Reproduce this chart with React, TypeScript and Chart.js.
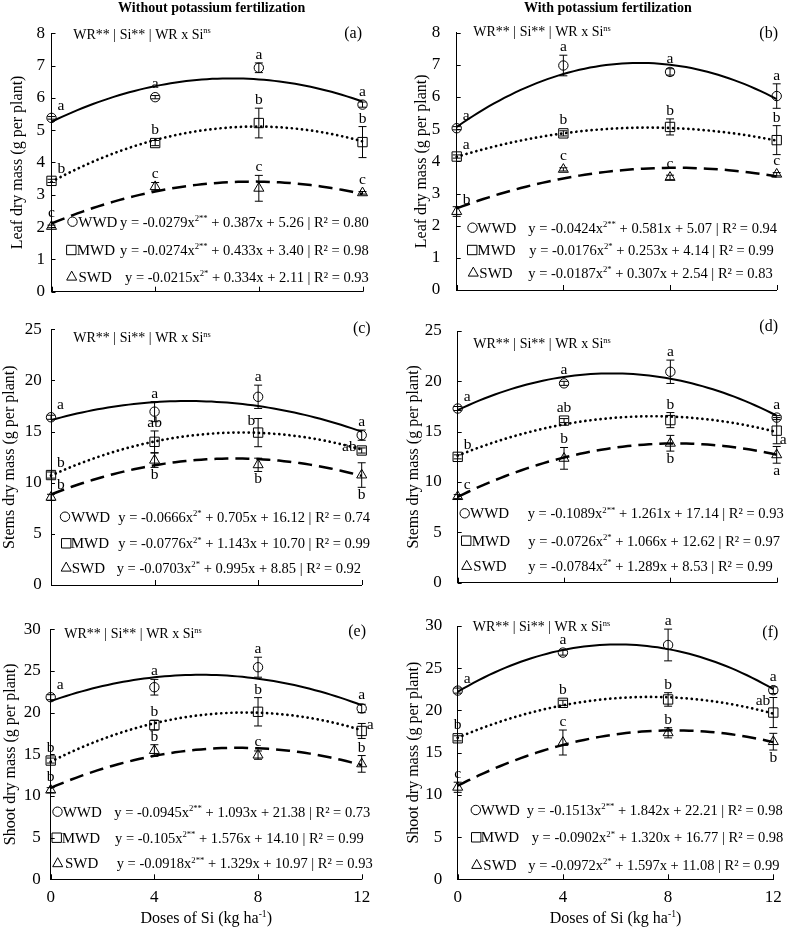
import React, { useEffect, useRef } from "react";
import { Chart, registerables } from "chart.js";
Chart.register(...registerables);

const FONT = '"Liberation Serif", "Times New Roman", Times, serif';

// ---------- data ----------
const doses = [0, 4, 8, 12];
const xTickValues = [0, 4, 8, 12];
const seriesNames = ["WWD", "MWD", "SWD"];
const anovaText = "WR** | Si** | WR x Si";
const anovaSup = "ns";

// (a) leaf, without K
const aWWD = [5.38, 6.02, 6.93, 5.79];
const aWWDErr = [0.04, 0.05, 0.15, 0.08];
const aWWDLet = ["a", "a", "a", "a"];
const aMWD = [3.43, 4.6, 5.22, 4.63];
const aMWDErr = [0.05, 0.08, 0.46, 0.48];
const aMWDLet = ["b", "b", "b", "b"];
const aSWD = [2.02, 3.25, 3.2, 3.06];
const aSWDErr = [0.04, 0.13, 0.4, 0.04];
const aSWDLet = ["c", "c", "c", "c"];
const aEqWWD = ["-0.0279", "**", "0.387", "5.26", "0.80"];
const aEqMWD = ["-0.0274", "**", "0.433", "3.40", "0.98"];
const aEqSWD = ["-0.0215", "*", "0.334", "2.11", "0.93"];

// (b) leaf, with K
const bWWD = [5.03, 6.98, 6.78, 6.03];
const bWWDErr = [0.05, 0.32, 0.1, 0.38];
const bWWDLet = ["a", "a", "a", "a"];
const bMWD = [4.15, 4.87, 5.07, 4.66];
const bMWDErr = [0.05, 0.08, 0.25, 0.45];
const bMWDLet = ["a", "b", "b", "b"];
const bSWD = [2.44, 3.75, 3.5, 3.6];
const bSWDErr = [0.15, 0.05, 0.07, 0.05];
const bSWDLet = ["b", "c", "c", "c"];
const bEqWWD = ["-0.0424", "**", "0.581", "5.07", "0.94"];
const bEqMWD = ["-0.0176", "*", "0.253", "4.14", "0.99"];
const bEqSWD = ["-0.0187", "*", "0.307", "2.54", "0.83"];

// (c) stems, without K
const cWWD = [16.4, 16.95, 18.4, 14.65];
const cWWDErr = [0.2, 0.98, 1.14, 0.5];
const cWWDLet = ["a", "a", "a", "a"];
const cMWD = [10.75, 14.0, 14.9, 13.15];
const cMWDErr = [0.3, 1.06, 1.38, 0.25];
const cMWDLet = ["b", "ab", "b", "ab"];
const cSWD = [8.57, 12.2, 11.75, 10.75];
const cSWDErr = [0.3, 0.7, 0.65, 1.2];
const cSWDLet = ["b", "b", "b", "b"];
const cEqWWD = ["-0.0666", "*", "0.705", "16.12", "0.74"];
const cEqMWD = ["-0.0776", "*", "1.143", "10.70", "0.99"];
const cEqSWD = ["-0.0703", "*", "0.995", "8.85", "0.92"];

// (d) stems, with K
const dWWD = [17.3, 19.8, 20.95, 16.4];
const dWWDErr = [0.2, 0.2, 1.16, 0.2];
const dWWDLet = ["a", "a", "a", "a"];
const dMWD = [12.5, 16.1, 16.15, 15.1];
const dMWDErr = [0.2, 0.2, 0.75, 1.3];
const dMWDLet = ["b", "ab", "b", "a"];
const dSWD = [8.55, 12.35, 13.85, 12.7];
const dSWDErr = [0.2, 1.08, 0.78, 0.83];
const dSWDLet = ["c", "b", "b", "a"];
const dEqWWD = ["-0.1089", "**", "1.261", "17.14", "0.93"];
const dEqMWD = ["-0.0726", "*", "1.066", "12.62", "0.97"];
const dEqSWD = ["-0.0784", "*", "1.289", "8.53", "0.99"];

// (e) shoot, without K
const eWWD = [21.85, 23.05, 25.45, 20.5];
const eWWDErr = [0.3, 0.94, 1.2, 0.5];
const eWWDLet = ["a", "a", "a", "a"];
const eMWD = [14.25, 18.5, 20.1, 17.8];
const eMWDErr = [0.3, 0.6, 1.7, 0.9];
const eMWDLet = ["b", "b", "b", "a"];
const eSWD = [10.7, 15.45, 14.9, 13.85];
const eSWDErr = [0.3, 0.7, 0.5, 1.0];
const eSWDLet = ["b", "b", "c", "b"];
const eEqWWD = ["-0.0945", "**", "1.093", "21.38", "0.73"];
const eEqMWD = ["-0.105", "**", "1.576", "14.10", "0.99"];
const eEqSWD = ["-0.0918", "**", "1.329", "10.97", "0.93"];

// (f) shoot, with K
const fWWD = [22.35, 26.85, 27.75, 22.4];
const fWWDErr = [0.3, 0.3, 1.88, 0.4];
const fWWDLet = ["a", "a", "a", "a"];
const fMWD = [16.7, 20.9, 21.3, 19.75];
const fMWDErr = [0.3, 0.3, 0.8, 1.78];
const fMWDLet = ["b", "b", "b", "ab"];
const fSWD = [10.9, 16.2, 17.35, 16.3];
const fSWDErr = [0.6, 1.48, 0.6, 0.99];
const fSWDLet = ["c", "c", "b", "b"];
const fEqWWD = ["-0.1513", "**", "1.842", "22.21", "0.98"];
const fEqMWD = ["-0.0902", "*", "1.320", "16.77", "0.98"];
const fEqSWD = ["-0.0972", "*", "1.597", "11.08", "0.99"];

// ---------- letter placement (style) ----------
const posA = [["tr", "t", "t", "t"], ["tr", "t", "t", "t"], ["t", "t", "t", "t"]];
const posB = [["tr", "t", "t", "t"], ["tr", "t", "t", "t"], ["tr", "t", "t", "t"]];
const posC = [["tr", "t", "t", "t"], ["tr", "t", "tl", "l"], ["tr", "b", "b", "b"]];
const posD = [["tr", "t", "t", "t"], ["tr", "t", "t", "br"], ["tr", "t", "b", "b"]];
const posE = [["tr", "t", "t", "t"], ["t", "t", "t", "r"], ["t", "t", "t", "t"]];
const posF = [["tr", "t", "t", "t"], ["t", "t", "t", "tl"], ["t", "t", "t", "b"]];

type Series = { vals: number[]; errs: number[]; lets: string[]; pos: string[]; eq: string[] };
type PanelCfg = {
  canvas: { x: number; y: number; w: number; h: number };
  area: { L: number; R: number; T: number; B: number };
  yMax: number; yStep: number; yTitle: string; yTitlePad: number; yTickPad: number;
  bottom: boolean; tag: string; tagPos: [number, number]; anova: [number, number];
  legend: number[][]; heading?: { text: string; x: number; y: number };
  series: Series[];
};

function mk(vals: number[][], errs: number[][], lets: string[][], pos: string[][], eqs: string[][]): Series[] {
  return vals.map((v, i) => ({ vals: v, errs: errs[i], lets: lets[i], pos: pos[i], eq: eqs[i] }));
}

const panels: PanelCfg[] = [
  {
    canvas: { x: 0, y: 0, w: 390, h: 300 }, area: { L: 51.5, R: 362.5, T: 33.2, B: 291.7 },
    yMax: 8, yStep: 1, yTitle: "Leaf dry mass (g per plant)", yTitlePad: 7.9, yTickPad: 6.5,
    bottom: false, tag: "(a)", tagPos: [362, 33], anova: [73.3, 34],
    legend: [[221.7, 72.5, 78.3, 120], [250, 71.3, 76.7, 120], [276.7, 71.7, 78.5, 125]],
    heading: { text: "Without potassium fertilization", x: 211.7, y: 7 },
    series: mk([aWWD, aMWD, aSWD], [aWWDErr, aMWDErr, aSWDErr], [aWWDLet, aMWDLet, aSWDLet], posA, [aEqWWD, aEqMWD, aEqSWD]),
  },
  {
    canvas: { x: 390, y: 0, w: 397, h: 300 }, area: { L: 456.7, R: 776.7, T: 32.7, B: 290 },
    yMax: 8, yStep: 1, yTitle: "Leaf dry mass (g per plant)", yTitlePad: 21.7, yTickPad: 16.5,
    bottom: false, tag: "(b)", tagPos: [778, 33], anova: [473.3, 31.7],
    legend: [[227.7, 472.5, 477.3, 528.3], [250, 472.2, 477.3, 529.3], [272.7, 473.3, 479.3, 528.3]],
    heading: { text: "With potassium fertilization", x: 607.8, y: 7 },
    series: mk([bWWD, bMWD, bSWD], [bWWDErr, bMWDErr, bSWDErr], [bWWDLet, bMWDLet, bSWDLet], posB, [bEqWWD, bEqMWD, bEqSWD]),
  },
  {
    canvas: { x: 0, y: 300, w: 390, h: 300 }, area: { L: 51, R: 361.7, T: 329.3, B: 585 },
    yMax: 25, yStep: 5, yTitle: "Stems dry mass (g per plant)", yTitlePad: 0.4, yTickPad: 9.3,
    bottom: false, tag: "(c)", tagPos: [370.7, 327.7], anova: [73.3, 337.7],
    legend: [[516.7, 65, 71, 118.3], [543.3, 66.2, 70.7, 118.3], [567.7, 66.2, 71.7, 116.7]],
    series: mk([cWWD, cMWD, cSWD], [cWWDErr, cMWDErr, cSWDErr], [cWWDLet, cMWDLet, cSWDLet], posC, [cEqWWD, cEqMWD, cEqSWD]),
  },
  {
    canvas: { x: 390, y: 300, w: 397, h: 300 }, area: { L: 457.7, R: 776.7, T: 331, B: 582.7 },
    yMax: 25, yStep: 5, yTitle: "Stems dry mass (g per plant)", yTitlePad: 14.4, yTickPad: 16,
    bottom: false, tag: "(d)", tagPos: [778, 326], anova: [473.3, 343.3],
    legend: [[513.3, 464.7, 470, 527.7], [540.7, 466.2, 471.7, 528.3], [566, 466.7, 473.3, 528.3]],
    series: mk([dWWD, dMWD, dSWD], [dWWDErr, dMWDErr, dSWDErr], [dWWDLet, dMWDLet, dSWDLet], posD, [dEqWWD, dEqMWD, dEqSWD]),
  },
  {
    canvas: { x: 0, y: 600, w: 390, h: 327 }, area: { L: 50.7, R: 361.7, T: 629.3, B: 879.3 },
    yMax: 30, yStep: 5, yTitle: "Shoot dry mass (g per plant)", yTitlePad: 0.9, yTickPad: 10,
    bottom: true, tag: "(e)", tagPos: [366, 631], anova: [64.3, 633.3],
    legend: [[811.7, 57.5, 62.7, 114.3], [837.7, 56.7, 61.7, 115], [863.3, 57.7, 65, 116.7]],
    series: mk([eWWD, eMWD, eSWD], [eWWDErr, eMWDErr, eSWDErr], [eWWDLet, eMWDLet, eSWDLet], posE, [eEqWWD, eEqMWD, eEqSWD]),
  },
  {
    canvas: { x: 390, y: 600, w: 397, h: 327 }, area: { L: 457.7, R: 773.3, T: 626, B: 879.3 },
    yMax: 30, yStep: 5, yTitle: "Shoot dry mass (g per plant)", yTitlePad: 14.4, yTickPad: 15.4,
    bottom: true, tag: "(f)", tagPos: [778.3, 631.7], anova: [472.7, 626.7],
    legend: [[810, 475.8, 480.7, 526.7], [837.3, 476.2, 480.7, 531.7], [865, 476.7, 483.3, 528.3]],
    series: mk([fWWD, fMWD, fSWD], [fWWDErr, fMWDErr, fSWDErr], [fWWDLet, fMWDLet, fSWDLet], posF, [fEqWWD, fEqMWD, fEqSWD]),
  },
];

// ---------- drawing helpers ----------
type Seg = [string, boolean];
function segFont(size: number, sup: boolean) {
  return `${sup ? (size * 0.6).toFixed(1) : size}px ${FONT}`;
}
function richWidth(ctx: CanvasRenderingContext2D, segs: Seg[], size: number) {
  let w = 0;
  for (const [t, sup] of segs) { ctx.font = segFont(size, sup); w += ctx.measureText(t).width; }
  return w;
}
function drawRich(ctx: CanvasRenderingContext2D, segs: Seg[], x: number, y: number, size: number, center = false) {
  let cx = center ? x - richWidth(ctx, segs, size) / 2 : x;
  ctx.textAlign = "left";
  ctx.textBaseline = "alphabetic";
  for (const [t, sup] of segs) {
    ctx.font = segFont(size, sup);
    ctx.fillText(t, cx, sup ? y - size * 0.38 : y);
    cx += ctx.measureText(t).width;
  }
}
function drawMarker(ctx: CanvasRenderingContext2D, kind: number, x: number, y: number) {
  ctx.beginPath();
  if (kind === 0) ctx.arc(x, y, 4.7, 0, Math.PI * 2);
  else if (kind === 1) ctx.rect(x - 4.7, y - 4.7, 9.4, 9.4);
  else { ctx.moveTo(x, y - 5.6); ctx.lineTo(x + 5, y + 3.4); ctx.lineTo(x - 5, y + 3.4); ctx.closePath(); }
  ctx.stroke();
}

const markerStyles = [
  { pointStyle: "circle", radius: 4.7, dash: [] as number[], width: 2, cap: "butt" },
  { pointStyle: "rect", radius: 6.6, dash: [0.1, 5], width: 2.7, cap: "round" },
  { pointStyle: "triangle", radius: 5.8, dash: [14, 7], width: 2.5, cap: "butt" },
];

const EQ_SIZE = 14.5;
const LETTER_SIZE = 15.5;

function decoPlugin(p: PanelCfg) {
  return {
    id: "deco",
    afterDraw(chart: any) {
      const ctx: CanvasRenderingContext2D = chart.ctx;
      const xs = chart.scales.x, ys = chart.scales.y, area = chart.chartArea;
      const ox = p.canvas.x, oy = p.canvas.y;
      ctx.save();
      ctx.strokeStyle = "#000";
      ctx.fillStyle = "#000";
      ctx.lineWidth = 1;
      ctx.setLineDash([]);
      // inward tick marks
      ctx.beginPath();
      for (let v = 0; v <= p.yMax + 1e-9; v += p.yStep) {
        const y = Math.round(ys.getPixelForValue(v)) + 0.5;
        ctx.moveTo(area.left, y); ctx.lineTo(area.left + 4, y);
      }
      for (const v of xTickValues) {
        const x = Math.round(xs.getPixelForValue(v)) + 0.5;
        ctx.moveTo(x, area.bottom); ctx.lineTo(x, area.bottom - 5);
      }
      ctx.stroke();

      // error bars and letters
      p.series.forEach((s) => {
        s.vals.forEach((v, i) => {
          const e = s.errs[i];
          const px = xs.getPixelForValue(doses[i]);
          const py = ys.getPixelForValue(v);
          const t = ys.getPixelForValue(v + e);
          const b = ys.getPixelForValue(v - e);
          ctx.beginPath();
          ctx.moveTo(px, t); ctx.lineTo(px, b);
          ctx.moveTo(px - 4, t); ctx.lineTo(px + 4, t);
          ctx.moveTo(px - 4, b); ctx.lineTo(px + 4, b);
          ctx.stroke();
          const top = Math.min(t, py - 5);
          const bot = Math.max(b, py + 5);
          ctx.font = `${LETTER_SIZE}px ${FONT}`;
          ctx.textBaseline = "alphabetic";
          const L = s.lets[i];
          switch (s.pos[i]) {
            case "tr": ctx.textAlign = "left"; ctx.fillText(L, px + 6, py - 8); break;
            case "tl": ctx.textAlign = "right"; ctx.fillText(L, px - 3, py - 8); break;
            case "l": ctx.textAlign = "right"; ctx.fillText(L, px - 5, py); break;
            case "r": ctx.textAlign = "left"; ctx.fillText(L, px + 5, py - 2); break;
            case "br": ctx.textAlign = "left"; ctx.fillText(L, px + 3, py + 13); break;
            case "b": ctx.textAlign = "center"; ctx.fillText(L, px, bot + 12); break;
            default: ctx.textAlign = "center"; ctx.fillText(L, px, top - 4);
          }
        });
      });

      // ANOVA summary
      drawRich(ctx, [[anovaText, false], [anovaSup, true]], p.anova[0] - ox, p.anova[1] - oy + 4.6, 14);
      // panel tag
      ctx.font = `16px ${FONT}`;
      ctx.textAlign = "right";
      ctx.textBaseline = "alphabetic";
      ctx.fillText(p.tag, p.tagPos[0] - ox, p.tagPos[1] - oy + 5);

      // legend with equations
      p.legend.forEach((row, k) => {
        const [y, mx, lx, ex] = row;
        drawMarker(ctx, k, mx - ox, y - oy);
        ctx.font = `15px ${FONT}`;
        ctx.textAlign = "left";
        ctx.fillText(seriesNames[k], lx - ox, y - oy + 5);
        const [qa, sig, qb, qc, r2] = p.series[k].eq;
        drawRich(ctx, [
          [`y = ${qa}x`, false],
          [`2${sig}`, true],
          [` + ${qb}x + ${qc} | R² = ${r2}`, false],
        ], ex - ox, y - oy + 5, EQ_SIZE);
      });

      // heading
      if (p.heading) {
        ctx.font = `bold 14px ${FONT}`;
        ctx.textAlign = "center";
        ctx.fillText(p.heading.text, p.heading.x - ox, p.heading.y - oy + 5);
      }
      // x title
      if (p.bottom) {
        drawRich(ctx, [["Doses of Si (kg ha", false], ["-1", true], [")", false]], (area.left + area.right) / 2, 918 - oy + 5, 16, true);
      }
      ctx.restore();
    },
  };
}

function buildConfig(p: PanelCfg): any {
  const c = p.canvas, a = p.area;
  const datasets: any[] = [];
  p.series.forEach((s, k) => {
    const st = markerStyles[k];
    const A = Number(s.eq[0]), B = Number(s.eq[2]), C = Number(s.eq[3]);
    const curve: { x: number; y: number }[] = [];
    for (let i = 0; i <= 60; i++) {
      const x = (12 * i) / 60;
      curve.push({ x, y: A * x * x + B * x + C });
    }
    datasets.push({
      type: "line", data: curve, borderColor: "#000", borderWidth: st.width,
      borderDash: st.dash, borderCapStyle: st.cap, pointRadius: 0, fill: false,
      tension: 0, clip: false, order: 2,
    });
  });
  p.series.forEach((s, k) => {
    const st = markerStyles[k];
    datasets.push({
      type: "scatter", data: doses.map((x, i) => ({ x, y: s.vals[i] })),
      pointStyle: st.pointStyle, pointRadius: st.radius, borderColor: "#000",
      backgroundColor: "rgba(0,0,0,0)", borderWidth: 1, clip: false, order: 1,
    });
  });
  return {
    type: "scatter",
    data: { datasets },
    options: {
      animation: false,
      responsive: false,
      devicePixelRatio: 1,
      events: [],
      layout: {
        autoPadding: false,
        padding: { left: 0, top: a.T - c.y, right: c.w - (a.R - c.x), bottom: 0 },
      },
      plugins: { legend: { display: false }, tooltip: { enabled: false } },
      scales: {
        x: {
          type: "linear", min: 0, max: 12,
          afterBuildTicks: (s: any) => { s.ticks = xTickValues.map((v) => ({ value: v })); },
          afterFit: (s: any) => { s.height = c.h - (a.B - c.y); s.paddingLeft = 0; s.paddingRight = 0; },
          grid: { display: false, drawTicks: false, tickLength: 0 },
          border: { display: true, color: "#000", width: 1 },
          ticks: {
            display: p.bottom, color: "#000", font: { family: FONT, size: 17 },
            padding: 8, maxRotation: 0, autoSkip: false,
          },
        },
        y: {
          type: "linear", min: 0, max: p.yMax,
          afterFit: (s: any) => { s.width = a.L - c.x; s.paddingTop = 0; s.paddingBottom = 0; },
          grid: { display: false, drawTicks: false, tickLength: 0 },
          border: { display: true, color: "#000", width: 1 },
          ticks: { stepSize: p.yStep, color: "#000", font: { family: FONT, size: 17 }, padding: p.yTickPad },
          title: {
            display: true, text: p.yTitle, color: "#000",
            font: { family: FONT, size: 16 }, padding: { top: p.yTitlePad, bottom: 0 },
          },
        },
      },
    },
    plugins: [decoPlugin(p)],
  };
}

function Panel({ p }: { p: PanelCfg }) {
  const ref = useRef<HTMLCanvasElement>(null);
  useEffect(() => {
    const chart = new Chart(ref.current as HTMLCanvasElement, buildConfig(p));
    return () => chart.destroy();
  }, [p]);
  return (
    <canvas
      ref={ref}
      width={p.canvas.w}
      height={p.canvas.h}
      style={{ position: "absolute", left: p.canvas.x, top: p.canvas.y, width: p.canvas.w, height: p.canvas.h }}
    />
  );
}

export default function App() {
  return (
    <div style={{ position: "absolute", left: 0, top: 0, width: 787, height: 927, background: "#fff" }}>
      {panels.map((p, i) => <Panel key={i} p={p} />)}
    </div>
  );
}
